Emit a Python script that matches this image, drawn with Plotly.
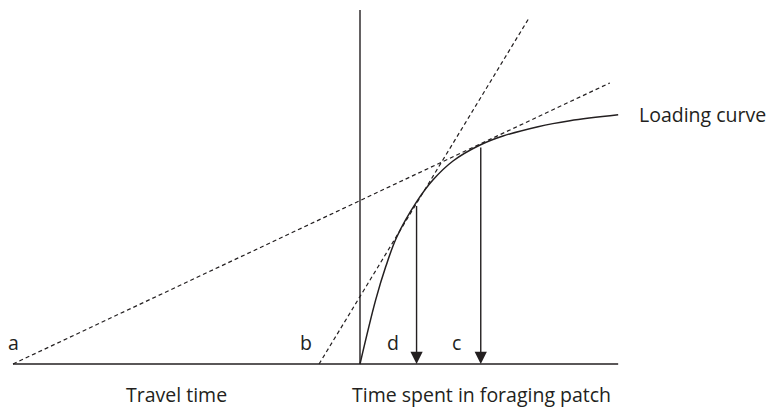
import plotly.graph_objects as go

# Loading curve: cumulative energy gained vs. time spent in the patch
curve_t = [0, 0.45, 0.74, 1.06, 1.63, 2.10, 2.68, 3.46, 4.12, 5.13, 6.05, 7.44]
curve_e = [0, 1.84, 2.80, 3.66, 4.67, 5.30, 5.85, 6.31, 6.57, 6.84, 7.01, 7.18]

# Time axis extent: travel starts at a, patch entry at 0
axis_t = [-10.0, 7.44]
patch_axis_top = 10.2

# Tangent (rate) lines, from travel start to their far ends
tangent_a_t = [-10.0, 7.20]
tangent_a_e = [0.0, 8.10]
tangent_b_t = [-1.18, 4.87]
tangent_b_e = [0.0, 9.97]

# Optimal patch residence times and curve height at them
residence_labels = ["d", "c"]
residence_t = [1.63, 3.48]
residence_e = [4.60, 6.28]

# Travel-time origins of the two tangents
origin_labels = ["a", "b"]
origin_t = [-10.0, -1.18]

INK = "#231f20"
FONT = "Open Sans"

fig = go.Figure()

# Time axis and patch-entry axis
fig.add_trace(go.Scatter(x=axis_t, y=[0, 0], mode="lines",
                         line=dict(color=INK, width=1.4), hoverinfo="skip"))
fig.add_trace(go.Scatter(x=[0, 0], y=[0, patch_axis_top], mode="lines",
                         line=dict(color=INK, width=1.4), hoverinfo="skip"))

# Tangent lines
for tx, ty in [(tangent_a_t, tangent_a_e), (tangent_b_t, tangent_b_e)]:
    fig.add_trace(go.Scatter(x=tx, y=ty, mode="lines",
                             line=dict(color=INK, width=1.2, dash="4px,3px"),
                             hoverinfo="skip"))

# Loading curve
fig.add_trace(go.Scatter(x=curve_t, y=curve_e, mode="lines",
                         line=dict(color=INK, width=1.5, shape="spline", smoothing=1.0),
                         hoverinfo="skip"))

annotations = []

# Drop arrows from curve to time axis
for t, e in zip(residence_t, residence_e):
    annotations.append(dict(x=t, y=0, ax=t, ay=e, xref="x", yref="y",
                            axref="x", ayref="y", text="", showarrow=True,
                            arrowhead=2, arrowsize=1.75, arrowwidth=1.4,
                            arrowcolor=INK, standoff=0))

label_font = dict(family=FONT, size=19.5, color=INK)

# Point labels a, b (left of their origins) and d, c (left of their arrows)
for lab, t, dx in zip(origin_labels, origin_t, [0, -13]):
    annotations.append(dict(x=t, y=0.63, xref="x", yref="y", text=lab,
                            showarrow=False, font=label_font, xshift=dx))
for lab, t in zip(residence_labels, residence_t):
    annotations.append(dict(x=t, y=0.61, xref="x", yref="y", text=lab,
                            showarrow=False, font=label_font, xshift=-24))

# Axis captions
annotations.append(dict(x=-5.30, y=-0.89, xref="x", yref="y", text="Travel time",
                        showarrow=False, font=label_font))
annotations.append(dict(x=3.49, y=-0.89, xref="x", yref="y",
                        text="Time spent in foraging patch",
                        showarrow=False, font=label_font))
annotations.append(dict(x=7.97, y=7.18, xref="x", yref="y", text="Loading curve",
                        showarrow=False, font=label_font, xanchor="left"))

fig.update_layout(
    width=768, height=407,
    margin=dict(l=0, r=0, t=0, b=0),
    paper_bgcolor="white", plot_bgcolor="white",
    showlegend=False,
    annotations=annotations,
    xaxis=dict(range=[-10.3746, 11.7579], visible=False, fixedrange=True),
    yaxis=dict(range=[-1.2392, 10.4899], visible=False, fixedrange=True),
)

fig.write_html("out.html")
